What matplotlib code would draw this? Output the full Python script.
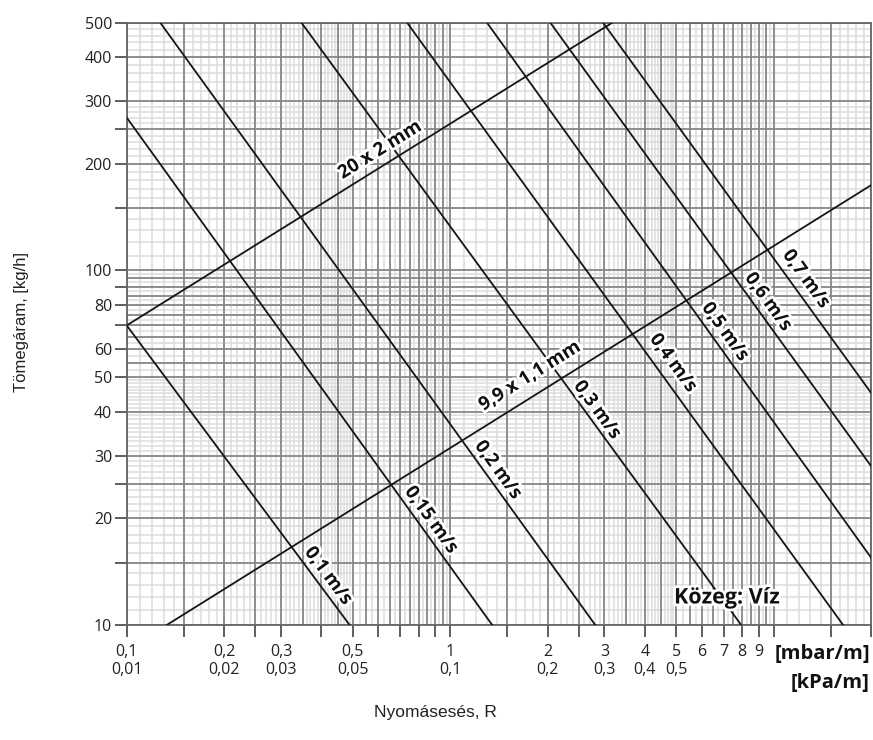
import numpy as np
import matplotlib.pyplot as plt
import matplotlib.patheffects as pe

# velocity lines (constant flow speed), end points
vel_labels = ["0,1 m/s", "0,15 m/s", "0,2 m/s", "0,3 m/s", "0,4 m/s", "0,5 m/s", "0,6 m/s", "0,7 m/s"]
vel_r0 = [0.1, 0.1, 0.127, 0.347, 0.736, 1.30, 2.04, 2.97]
vel_m0 = [70.0, 270, 500, 500, 500, 500, 500, 500]
vel_r1 = [0.489, 1.349, 2.81, 7.94, 16.4, 20, 20, 20]
vel_m1 = [10, 10, 10, 10, 10, 15.5, 28.1, 45.2]
vel_label_r = [0.42, 0.874, 1.407, 2.848, 4.891, 7.08, 9.62, 12.6]
vel_label_m = [13.75, 19.78, 27.36, 40.4, 54.8, 67.1, 81.5, 94.6]

# pipe lines
pipe_labels = ["20 x 2 mm", "9,9 x 1,1 mm"]
pipe_r0 = [0.1, 0.133]
pipe_m0 = [70.0, 10]
pipe_r1 = [3.17, 20]
pipe_m1 = [500, 174]
pipe_label_r = [0.6075, 1.767]
pipe_label_m = [218.8, 50.4]

x_ticks = [0.1, 0.15, 0.2, 0.25, 0.3, 0.4, 0.5, 0.6, 0.7, 0.8, 0.9, 1,
           1.5, 2, 2.5, 3, 4, 5, 6, 7, 8, 9, 10, 15, 20]
x_tick_text = {0.1: "0,1\n0,01", 0.2: "0,2\n0,02", 0.3: "0,3\n0,03", 0.5: "0,5\n0,05",
               1: "1\n0,1", 2: "2\n0,2", 3: "3\n0,3", 4: "4\n0,4", 5: "5\n0,5",
               6: "6", 7: "7", 8: "8", 9: "9"}
y_ticks = [10, 15, 20, 25, 30, 40, 50, 60, 70, 80, 90, 100, 150, 200, 250, 300, 400, 500]
y_tick_text = {10: "10", 20: "20", 30: "30", 40: "40", 50: "50", 60: "60", 80: "80",
               100: "100", 200: "200", 300: "300", 400: "400", 500: "500"}

# grid of the log paper
x_dark = sorted(set(np.round(np.concatenate([np.arange(0.1, 1.0001, 0.05),
                                             np.arange(1, 10.001, 0.5), [15, 20]]), 4)))
x_light = np.concatenate([np.arange(0.1, 0.5, 0.01), np.arange(0.5, 1.0, 0.025),
                          np.arange(1, 5, 0.1), np.arange(5, 10, 0.25), np.arange(10, 20, 1)])
y_dark = np.concatenate([np.arange(10, 30, 5), np.arange(30, 50, 10), np.arange(50, 100, 5),
                         np.arange(100, 300, 50), np.arange(300, 501, 100)])
y_light = np.concatenate([np.arange(10, 50, 1), np.arange(50, 100, 2.5),
                          np.arange(100, 300, 10), np.arange(300, 500, 20)])

fig = plt.figure(figsize=(8.73, 7.40), dpi=100)
ax = fig.add_axes([126.7 / 873, 1 - 625 / 740, (871 - 126.7) / 873, (625 - 22.7) / 740])
ax.set_xscale('log')
ax.set_yscale('log')
ax.set_xlim(0.1, 20)
ax.set_ylim(10, 500)

light_c = '#dcdcdc'
dark_c = '#858585'
for x in x_light:
    ax.axvline(x, color=light_c, lw=1.1, zorder=1)
for y in y_light:
    ax.axhline(y, color=light_c, lw=1.1, zorder=1)
for x in x_dark:
    ax.axvline(x, color=dark_c, lw=1.25, zorder=2)
for y in y_dark:
    ax.axhline(y, color=dark_c, lw=1.25, zorder=2)

for sp in ax.spines.values():
    sp.set_color('#666666')
    sp.set_linewidth(1.3)
    sp.set_zorder(3)

tick_font = ['Liberation Sans Narrow', 'Open Sans']
ax.xaxis.set_major_locator(plt.FixedLocator(x_ticks))
ax.xaxis.set_minor_locator(plt.NullLocator())
ax.set_xticklabels([x_tick_text.get(t, "") for t in x_ticks], family=tick_font, fontsize=11.5,
                   color='#222222', linespacing=1.15)
ax.yaxis.set_major_locator(plt.FixedLocator(y_ticks))
ax.yaxis.set_minor_locator(plt.NullLocator())
ax.set_yticklabels([y_tick_text.get(t, "") for t in y_ticks], family=tick_font, fontsize=11.5,
                   color='#222222')
ax.tick_params(axis='x', length=8.5, width=1.1, color='#333333', pad=5)
ax.tick_params(axis='y', length=8.5, width=1.1, color='#333333', pad=2)

halo = [pe.withStroke(linewidth=4, foreground='white')]


def line_angle(r0, m0, r1, m1):
    p0, p1 = ax.transData.transform([(r0, m0), (r1, m1)])
    return np.degrees(np.arctan2(p1[1] - p0[1], p1[0] - p0[0]))


for i in range(len(vel_labels)):
    ax.plot([vel_r0[i], vel_r1[i]], [vel_m0[i], vel_m1[i]], color='#151515', lw=1.3, zorder=4)
    ang = line_angle(vel_r0[i], vel_m0[i], vel_r1[i], vel_m1[i])
    ax.text(vel_label_r[i], vel_label_m[i], vel_labels[i], rotation=ang, rotation_mode='anchor',
            ha='center', va='center', family='Open Sans', fontweight='bold', fontsize=13.5,
            color='#111111', path_effects=halo, zorder=5)

for i in range(len(pipe_labels)):
    ax.plot([pipe_r0[i], pipe_r1[i]], [pipe_m0[i], pipe_m1[i]], color='#151515', lw=1.3, zorder=4)
    ang = line_angle(pipe_r0[i], pipe_m0[i], pipe_r1[i], pipe_m1[i])
    ax.text(pipe_label_r[i], pipe_label_m[i], pipe_labels[i], rotation=ang, rotation_mode='anchor',
            ha='center', va='center', family='Open Sans', fontweight='bold', fontsize=13.5,
            color='#111111', path_effects=halo, zorder=5)

fig.text(727 / 873, 1 - 598 / 740, "Közeg: Víz", ha='center', va='center', family='Open Sans',
         fontweight='bold', fontsize=15.5, color='#111111', path_effects=halo, zorder=6)

fig.text(870 / 873, 1 - 654 / 740, "[mbar/m]", ha='right', va='center', family='Open Sans',
         fontweight='bold', fontsize=14.5, color='#111111')
fig.text(870 / 873, 1 - 683 / 740, "[kPa/m]", ha='right', va='center', family='Open Sans',
         fontweight='bold', fontsize=14.5, color='#111111')

fig.text(22 / 873, 1 - 322 / 740, "Tömegáram, [kg/h]", rotation=90, ha='center', va='center',
         family='Liberation Sans', fontsize=12, color='#222222')
fig.text(435 / 873, 1 - 712 / 740, "Nyomásesés, R", ha='center', va='center',
         family='Liberation Sans', fontsize=12.5, color='#222222')

fig.savefig('out.png', dpi=100)
